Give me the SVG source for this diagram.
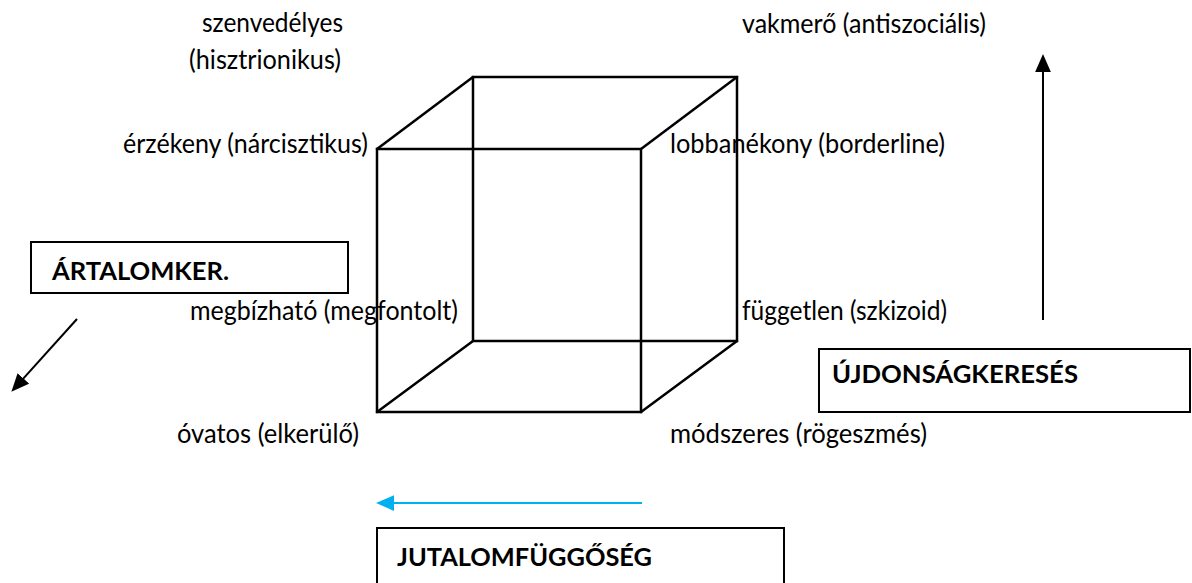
<svg xmlns="http://www.w3.org/2000/svg" width="1192" height="583" viewBox="0 0 1192 583">
<style>
.lbl{font-family:Lato,"Liberation Sans",sans-serif;font-size:26px;fill:#000}
.hd{font-family:Lato,"Liberation Sans",sans-serif;font-size:24px;font-weight:bold;fill:#000}
.box{fill:#fff;stroke:#000;stroke-width:2}
.edge{fill:none;stroke:#000;stroke-width:2.5;stroke-linecap:round}
.arr{fill:none;stroke:#000;stroke-width:2}
.arrb{fill:none;stroke:#00B0F0;stroke-width:2}
</style>
<defs>
<marker id="ah" markerUnits="userSpaceOnUse" markerWidth="18" markerHeight="16" viewBox="0 0 16 14" refX="8" refY="7" orient="auto">
<path d="M0,0 L16,7 L0,14 z" fill="#000"/>
</marker>
<marker id="ahb" markerUnits="userSpaceOnUse" markerWidth="18" markerHeight="16" viewBox="0 0 16 14" refX="8" refY="7" orient="auto">
<path d="M0,0 L16,7 L0,14 z" fill="#00B0F0"/>
</marker>
</defs>
<rect width="1192" height="583" fill="#fff"/>
<g id="labels">
<g id="lbl-szenvedelyes"><text class="lbl" x="202" y="32" textLength="141" lengthAdjust="spacingAndGlyphs">szenvedélyes</text>
<text class="lbl" x="189" y="69" textLength="152" lengthAdjust="spacingAndGlyphs">(hisztrionikus)</text></g>
<g id="lbl-vakmero"><text class="lbl" x="742" y="33" textLength="244" lengthAdjust="spacingAndGlyphs">vakmerő (antiszociális)</text></g>
<g id="lbl-erzekeny"><text class="lbl" x="123" y="153" textLength="245" lengthAdjust="spacingAndGlyphs">érzékeny (nárcisztikus)</text></g>
<g id="lbl-lobbanekony"><text class="lbl" x="670" y="153" textLength="275" lengthAdjust="spacingAndGlyphs">lobbanékony (borderline)</text></g>
<g id="lbl-megbizhato"><text class="lbl" x="190" y="320" textLength="268" lengthAdjust="spacingAndGlyphs">megbízható (megfontolt)</text></g>
<g id="lbl-fuggetlen"><text class="lbl" x="742" y="320" textLength="205" lengthAdjust="spacingAndGlyphs">független (szkizoid)</text></g>
<g id="lbl-ovatos"><text class="lbl" x="177" y="443" textLength="182" lengthAdjust="spacingAndGlyphs">óvatos (elkerülő)</text></g>
<g id="lbl-modszeres"><text class="lbl" x="670" y="443" textLength="257" lengthAdjust="spacingAndGlyphs">módszeres (rögeszmés)</text></g>
</g>
<g id="cube">
<rect class="edge" x="473" y="77" width="264" height="264"/>
<rect class="edge" x="377" y="149" width="264" height="263"/>
<line class="edge" x1="377" y1="149" x2="473" y2="77"/>
<line class="edge" x1="641" y1="149" x2="737" y2="77"/>
<line class="edge" x1="377" y1="412" x2="473" y2="341"/>
<line class="edge" x1="641" y1="412" x2="737" y2="341"/>
</g>
<g id="box-artalomker">
<rect class="box" x="31" y="242" width="317" height="51"/>
<text class="hd" x="52" y="280" textLength="177" lengthAdjust="spacingAndGlyphs">ÁRTALOMKER.</text>
</g>
<g id="box-ujdonsag">
<rect class="box" x="819" y="349" width="371" height="63"/>
<text class="hd" x="832" y="383" textLength="246" lengthAdjust="spacingAndGlyphs">ÚJDONSÁGKERESÉS</text>
</g>
<g id="box-jutalom">
<rect class="box" x="377" y="528" width="407" height="70"/>
<text class="hd" x="397" y="566" textLength="255" lengthAdjust="spacingAndGlyphs">JUTALOMFÜGGŐSÉG</text>
</g>
<g id="connectors">
<line class="arr" x1="77" y1="319" x2="17.4" y2="385.1" marker-end="url(#ah)"/>
<line class="arr" x1="1043" y1="320" x2="1043" y2="63" marker-end="url(#ah)"/>
<line class="arrb" x1="642" y1="503" x2="385" y2="503" marker-end="url(#ahb)"/>
</g>
</svg>
